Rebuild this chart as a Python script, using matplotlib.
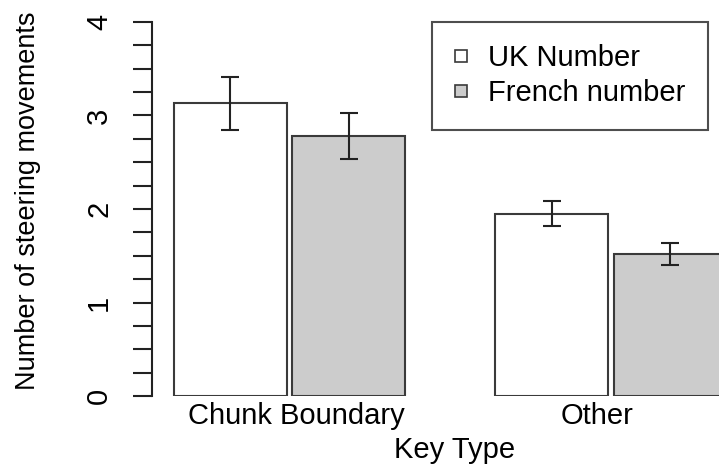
import matplotlib
matplotlib.use("Agg")
import matplotlib.pyplot as plt
from matplotlib.lines import Line2D
import numpy as np

plt.rcParams["font.family"] = ["Liberation Sans", "DejaVu Sans"]

# Mean steering movements per key type, with standard errors
categories = ["Chunk Boundary", "Other"]
series_names = ["UK Number", "French number"]
uk_means = [3.13, 1.95]
uk_err = [0.285, 0.135]
fr_means = [2.78, 1.52]
fr_err = [0.25, 0.12]

# bar layout in barplot units (width 1, small gap inside a group, wide gap between)
uk_left = np.array([0.8, 3.65])
fr_left = uk_left + 1.05
label_pos = [1.89, 4.55]

fs = 21
edge = "#3a3a3a"

fig = plt.figure(figsize=(7.19, 4.65), dpi=100)
ax = fig.add_axes([151.5 / 719, 69 / 465, (749 - 151.5) / 719, 374 / 465])

ax.bar(uk_left, uk_means, width=1, align="edge", color="white",
       edgecolor=edge, linewidth=1.5)
ax.bar(fr_left, fr_means, width=1, align="edge", color="#cccccc",
       edgecolor=edge, linewidth=1.5)
ax.errorbar(uk_left + 0.5, uk_means, yerr=uk_err, fmt="none", ecolor="#222222",
            elinewidth=1.5, capsize=6.8, capthick=1.5)
ax.errorbar(fr_left + 0.5, fr_means, yerr=fr_err, fmt="none", ecolor="#222222",
            elinewidth=1.5, capsize=6.8, capthick=1.5)

ax.set_xlim(0.604, 5.896)
ax.set_ylim(0, 4)

for s in ["top", "right", "bottom"]:
    ax.spines[s].set_visible(False)
ax.spines["left"].set_color("#222222")
ax.spines["left"].set_linewidth(1.5)

ax.set_yticks([0, 1, 2, 3, 4])
ax.set_yticks(np.arange(0, 4.01, 0.25), minor=True)
ax.tick_params(axis="y", which="both", length=13.7, width=1.5, color="#222222")
ax.tick_params(axis="y", which="major", labelsize=fs, pad=14, labelrotation=90)
for lab in ax.get_yticklabels():
    lab.set_va("center")

ax.set_xticks(label_pos, categories)
ax.tick_params(axis="x", length=0, labelsize=fs, pad=4)

fig.text(28 / 719, 1 - 201 / 465, "Number of steering movements", rotation=90,
         ha="center", va="center", fontsize=19.5)
fig.text(455 / 719, 1 - 458 / 465, "Key Type", ha="center", va="baseline",
         fontsize=fs)

handles = [
    Line2D([], [], linestyle="none", marker="s", markersize=8.2,
           markerfacecolor="white", markeredgecolor=edge, markeredgewidth=1.2),
    Line2D([], [], linestyle="none", marker="s", markersize=8.2,
           markerfacecolor="#cccccc", markeredgecolor=edge, markeredgewidth=1.2),
]
leg = fig.legend(handles, series_names, loc="upper left",
                 bbox_to_anchor=(432 / 719, 1 - 21.7 / 465), fontsize=fs,
                 frameon=True, fancybox=False, borderpad=0.78, handlelength=0.42,
                 handletextpad=0.73, labelspacing=0.24, borderaxespad=0)
leg.get_frame().set_edgecolor("#222222")
leg.get_frame().set_linewidth(1.5)

fig.savefig("out.png", dpi=100)
